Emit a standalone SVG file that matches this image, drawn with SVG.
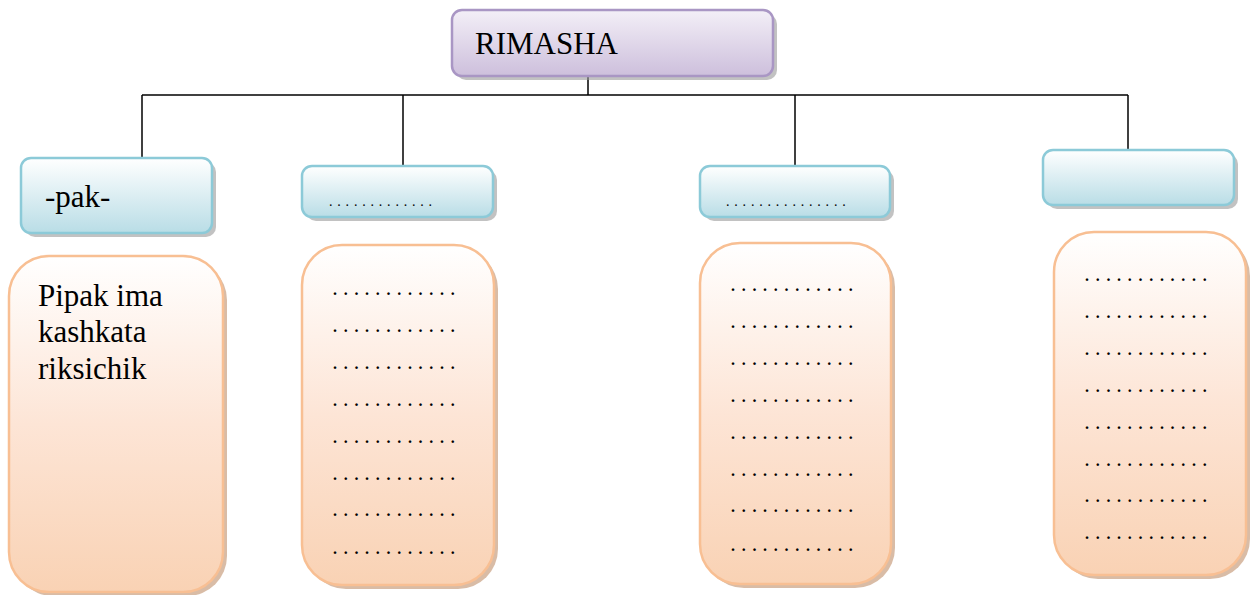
<svg xmlns="http://www.w3.org/2000/svg" width="1259" height="595" viewBox="0 0 1259 595">
<defs>
<linearGradient id="gPur" x1="0" y1="0" x2="0" y2="1"><stop offset="0" stop-color="#f3eff7"/><stop offset="1" stop-color="#cdbfdc"/></linearGradient>
<linearGradient id="gBlu" x1="0" y1="0" x2="0" y2="1"><stop offset="0" stop-color="#ffffff"/><stop offset="1" stop-color="#b9dde6"/></linearGradient>
<linearGradient id="gOr" x1="0" y1="0" x2="0" y2="1"><stop offset="0" stop-color="#ffffff"/><stop offset="0.5" stop-color="#fde5d6"/><stop offset="1" stop-color="#f9d2b4"/></linearGradient>
</defs>
<style>
.sh{fill:#9a9a9a;opacity:0.6}
.shO{fill:#c9a080;opacity:0.7}
.pur{fill:url(#gPur);stroke:#a996c4;stroke-width:2.5}
.blu{fill:url(#gBlu);stroke:#8ccad8;stroke-width:2.5}
.or{fill:url(#gOr);stroke:#f8bf93;stroke-width:2.5}
.t{font-family:'Liberation Serif','Times New Roman',serif;fill:#000}
.big{font-size:31px}
.dots{font-family:'Liberation Serif','Times New Roman',serif;font-size:16px;font-weight:bold;letter-spacing:6.7px;fill:#000}
.conn line{stroke:#000;stroke-width:1.5}
</style>
<g class="conn" id="connectors">
<line x1="588" y1="76" x2="588" y2="95"/>
<line x1="142" y1="95" x2="1128" y2="95"/>
<line x1="142" y1="95" x2="142" y2="158"/>
<line x1="403" y1="95" x2="403" y2="166"/>
<line x1="795" y1="95" x2="795" y2="166"/>
<line x1="1128" y1="95" x2="1128" y2="150"/>
</g>
<g id="root">
<rect class="sh" x="456" y="14" width="321" height="66" rx="10"/>
<rect class="pur" x="452" y="10" width="321" height="66" rx="10"/>
<text class="t big" x="475" y="54">RIMASHA</text>
</g>
<g id="h1">
<rect class="sh" x="25" y="162" width="191" height="75" rx="10"/>
<rect class="blu" x="21" y="158" width="191" height="75" rx="10"/>
<text class="t big" x="45" y="207">-pak-</text>
</g>
<g id="h2">
<rect class="sh" x="306" y="170" width="191" height="51" rx="10"/>
<rect class="blu" x="302" y="166" width="191" height="51" rx="10"/>
<text class="t" font-size="14" letter-spacing="4.8" x="329" y="206">.............</text>
</g>
<g id="h3">
<rect class="sh" x="704" y="170" width="190" height="51" rx="10"/>
<rect class="blu" x="700" y="166" width="190" height="51" rx="10"/>
<text class="t" font-size="14" letter-spacing="4.8" x="726" y="206">...............</text>
</g>
<g id="h4">
<rect class="sh" x="1047" y="154" width="191" height="55" rx="10"/>
<rect class="blu" x="1043" y="150" width="191" height="55" rx="10"/>
</g>
<g id="b1">
<rect class="shO" x="13" y="260" width="214" height="336" rx="40"/>
<rect class="or" x="9" y="256" width="214" height="336" rx="40"/>
<text class="t" font-size="31" x="38" y="306">Pipak ima</text>
<text class="t" font-size="31" x="38" y="342">kashkata</text>
<text class="t" font-size="31" x="38" y="379">riksichik</text>
</g>
<g id="b2">
<rect class="shO" x="306" y="249" width="192" height="340" rx="40"/>
<rect class="or" x="302" y="245" width="192" height="340" rx="40"/>
<text class="dots" x="333" y="295">............</text>
<text class="dots" x="333" y="332">............</text>
<text class="dots" x="333" y="369">............</text>
<text class="dots" x="333" y="406">............</text>
<text class="dots" x="333" y="443">............</text>
<text class="dots" x="333" y="480">............</text>
<text class="dots" x="333" y="516">............</text>
<text class="dots" x="333" y="554">............</text>
</g>
<g id="b3">
<rect class="shO" x="704" y="247" width="191" height="341" rx="40"/>
<rect class="or" x="700" y="243" width="191" height="341" rx="40"/>
<text class="dots" x="731" y="291">............</text>
<text class="dots" x="731" y="328">............</text>
<text class="dots" x="731" y="365">............</text>
<text class="dots" x="731" y="402">............</text>
<text class="dots" x="731" y="439">............</text>
<text class="dots" x="731" y="476">............</text>
<text class="dots" x="731" y="512">............</text>
<text class="dots" x="731" y="551">............</text>
</g>
<g id="b4">
<rect class="shO" x="1058" y="236" width="192" height="343" rx="40"/>
<rect class="or" x="1054" y="232" width="192" height="343" rx="40"/>
<text class="dots" x="1085" y="281">............</text>
<text class="dots" x="1085" y="318">............</text>
<text class="dots" x="1085" y="355">............</text>
<text class="dots" x="1085" y="392">............</text>
<text class="dots" x="1085" y="429">............</text>
<text class="dots" x="1085" y="466">............</text>
<text class="dots" x="1085" y="502">............</text>
<text class="dots" x="1085" y="539">............</text>
</g>
</svg>
